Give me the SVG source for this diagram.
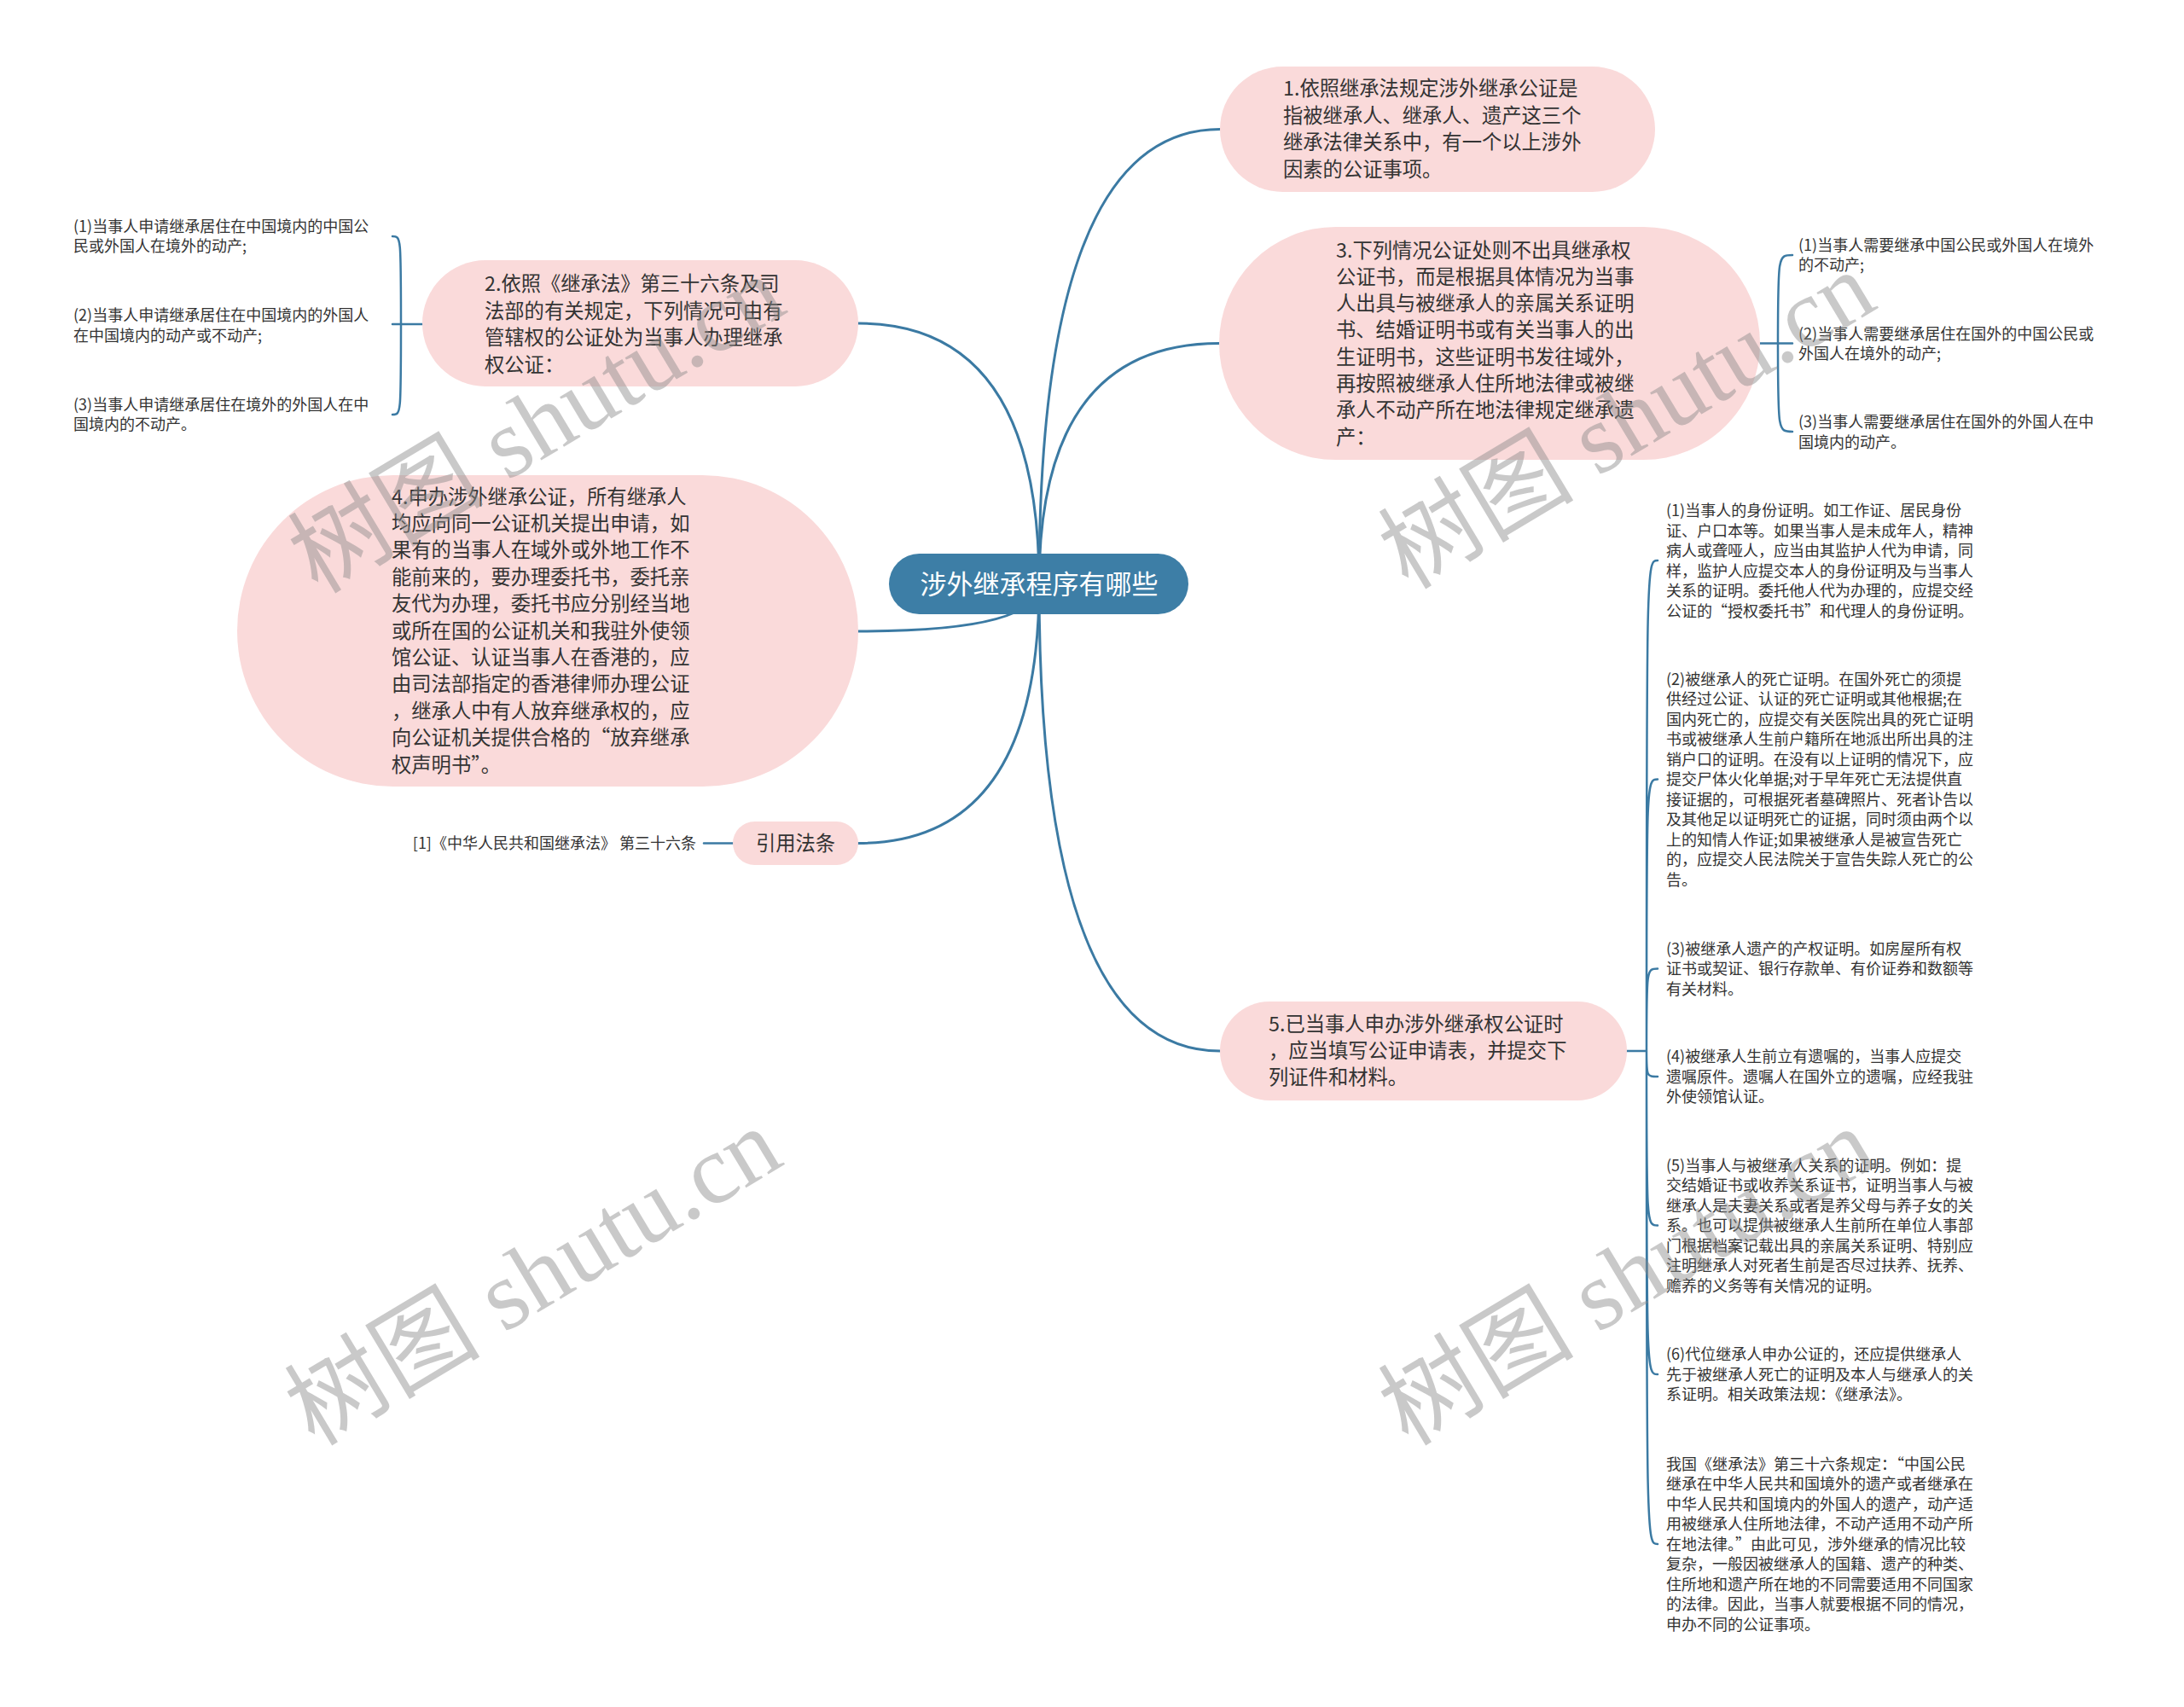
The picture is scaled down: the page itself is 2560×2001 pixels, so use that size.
<svg xmlns="http://www.w3.org/2000/svg" width="2560" height="2001" viewBox="0 0 2560 2001">
<style>
.bub{fill:#fadada;}
.ctr{fill:#3d7ea6;}
.con{fill:none;stroke:#3b7aa3;stroke-width:3;stroke-linecap:round;}
.brc{fill:none;stroke:#3b7aa3;stroke-width:2.5;stroke-linecap:round;}
.t{font-family:"Noto Sans CJK SC","Microsoft YaHei",sans-serif;font-size:23.3px;fill:#333;}
.s{font-family:"Noto Sans CJK SC","Microsoft YaHei",sans-serif;font-size:18px;fill:#333;}
.c{font-family:"Noto Sans CJK SC","Microsoft YaHei",sans-serif;font-size:31px;fill:#fff;}
.wm{font-family:"Liberation Serif","Noto Sans CJK SC",serif;font-size:115px;fill:#8a8a8a;opacity:0.45;}
</style>
<rect width="2560" height="2001" fill="#fff"/>
<g id="connectors">
<path class="con" d="M1218,685 Q1218,151.5 1430,151.5"/>
<path class="con" d="M1218,685 Q1218,402.5 1429,402.5"/>
<path class="con" d="M1218,685 Q1218,1232 1430,1232"/>
<path class="con" d="M1218,685 Q1218,379 1006,379"/>
<path class="con" d="M1218,685 Q1218,740 1006,740"/>
<path class="con" d="M1218,685 Q1218,988.5 1006,988.5"/>
<path class="brc" d="M859,988.5 H825"/>
<path class="brc" d="M2063,402.5 H2084 M2084,402.5 C2084,299 2084,299 2101,299 M2084,402.5 H2101 M2084,402.5 C2084,506 2084,506 2101,506"/>
<path class="brc" d="M495,380 H470 M470,380 C470,277 470,277 460,277 M470,380 H460 M470,380 C470,486 470,486 460,486"/>
<path class="brc" d="M1906,1232 H1930 M1930,1232 C1930,657 1930,657 1943,657 M1930,1232 C1930,913.5 1930,913.5 1943,913.5 M1930,1232 C1930,1135.5 1930,1135.5 1943,1135.5 M1930,1232 C1930,1262 1930,1262 1943,1262 M1930,1232 C1930,1436.5 1930,1436.5 1943,1436.5 M1930,1232 C1930,1611 1930,1611 1943,1611 M1930,1232 C1930,1810 1930,1810 1943,1810"/>
</g>
<g id="center">
<rect class="ctr" x="1042" y="649" width="351" height="71" rx="35.5"/>
<text class="c" x="1218" y="696" text-anchor="middle">涉外继承程序有哪些</text>
</g>
<g id="node1">
<rect class="bub" x="1430" y="78" width="510" height="147" rx="73.5"/>
<text class="t" y="112.3"><tspan x="1504">1.依照继承法规定涉外继承公证是</tspan><tspan x="1504" dy="31.5">指被继承人、继承人、遗产这三个</tspan><tspan x="1504" dy="31.5">继承法律关系中，有一个以上涉外</tspan><tspan x="1504" dy="31.5">因素的公证事项。</tspan></text>
</g>
<g id="node3">
<rect class="bub" x="1429" y="266" width="634" height="273" rx="136.5"/>
<text class="t" y="301.5"><tspan x="1566">3.下列情况公证处则不出具继承权</tspan><tspan x="1566" dy="31.3">公证书，而是根据具体情况为当事</tspan><tspan x="1566" dy="31.3">人出具与被继承人的亲属关系证明</tspan><tspan x="1566" dy="31.3">书、结婚证明书或有关当事人的出</tspan><tspan x="1566" dy="31.3">生证明书，这些证明书发往域外，</tspan><tspan x="1566" dy="31.3">再按照被继承人住所地法律或被继</tspan><tspan x="1566" dy="31.3">承人不动产所在地法律规定继承遗</tspan><tspan x="1566" dy="31.3">产：</tspan></text>
</g>
<g id="node3-1"><text class="s" y="293.5"><tspan x="2108">(1)当事人需要继承中国公民或外国人在境外</tspan><tspan x="2108" dy="23.5">的不动产;</tspan></text></g>
<g id="node3-2"><text class="s" y="397.5"><tspan x="2108">(2)当事人需要继承居住在国外的中国公民或</tspan><tspan x="2108" dy="23.5">外国人在境外的动产;</tspan></text></g>
<g id="node3-3"><text class="s" y="501"><tspan x="2108">(3)当事人需要继承居住在国外的外国人在中</tspan><tspan x="2108" dy="23.5">国境内的动产。</tspan></text></g>
<g id="node2">
<rect class="bub" x="495" y="305" width="511" height="148" rx="74"/>
<text class="t" y="341"><tspan x="568">2.依照《继承法》第三十六条及司</tspan><tspan x="568" dy="31.5">法部的有关规定，下列情况可由有</tspan><tspan x="568" dy="31.5">管辖权的公证处为当事人办理继承</tspan><tspan x="568" dy="31.5">权公证：</tspan></text>
</g>
<g id="node2-1"><text class="s" y="271.5"><tspan x="86">(1)当事人申请继承居住在中国境内的中国公</tspan><tspan x="86" dy="23.5">民或外国人在境外的动产;</tspan></text></g>
<g id="node2-2"><text class="s" y="376"><tspan x="86">(2)当事人申请继承居住在中国境内的外国人</tspan><tspan x="86" dy="23.5">在中国境内的动产或不动产;</tspan></text></g>
<g id="node2-3"><text class="s" y="480.5"><tspan x="86">(3)当事人申请继承居住在境外的外国人在中</tspan><tspan x="86" dy="23.5">国境内的不动产。</tspan></text></g>
<g id="node4">
<rect class="bub" x="278" y="557" width="728" height="365" rx="182.5"/>
<text class="t" y="590.5"><tspan x="459">4.申办涉外继承公证，所有继承人</tspan><tspan x="459" dy="31.4">均应向同一公证机关提出申请，如</tspan><tspan x="459" dy="31.4">果有的当事人在域外或外地工作不</tspan><tspan x="459" dy="31.4">能前来的，要办理委托书，委托亲</tspan><tspan x="459" dy="31.4">友代为办理，委托书应分别经当地</tspan><tspan x="459" dy="31.4">或所在国的公证机关和我驻外使领</tspan><tspan x="459" dy="31.4">馆公证、认证当事人在香港的，应</tspan><tspan x="459" dy="31.4">由司法部指定的香港律师办理公证</tspan><tspan x="459" dy="31.4">，继承人中有人放弃继承权的，应</tspan><tspan x="459" dy="31.4">向公证机关提供合格的“放弃继承</tspan><tspan x="459" dy="31.4">权声明书”。</tspan></text>
</g>
<g id="cite">
<rect class="bub" x="859" y="963" width="147" height="51" rx="25.5"/>
<text class="t" x="932.5" y="996.5" text-anchor="middle">引用法条</text>
</g>
<g id="cite-1"><text class="s" x="816" y="995" text-anchor="end">[1]《中华人民共和国继承法》 第三十六条</text></g>
<g id="node5">
<rect class="bub" x="1430" y="1174" width="477" height="116" rx="58"/>
<text class="t" y="1209"><tspan x="1487">5.已当事人申办涉外继承权公证时</tspan><tspan x="1487" dy="31">，应当填写公证申请表，并提交下</tspan><tspan x="1487" dy="31">列证件和材料。</tspan></text>
</g>
<g id="node5-1"><text class="s" y="605"><tspan x="1953">(1)当事人的身份证明。如工作证、居民身份</tspan><tspan x="1953" dy="23.5">证、户口本等。如果当事人是未成年人，精神</tspan><tspan x="1953" dy="23.5">病人或聋哑人，应当由其监护人代为申请，同</tspan><tspan x="1953" dy="23.5">样，监护人应提交本人的身份证明及与当事人</tspan><tspan x="1953" dy="23.5">关系的证明。委托他人代为办理的，应提交经</tspan><tspan x="1953" dy="23.5">公证的“授权委托书”和代理人的身份证明。</tspan></text></g>
<g id="node5-2"><text class="s" y="802.5"><tspan x="1953">(2)被继承人的死亡证明。在国外死亡的须提</tspan><tspan x="1953" dy="23.5">供经过公证、认证的死亡证明或其他根据;在</tspan><tspan x="1953" dy="23.5">国内死亡的，应提交有关医院出具的死亡证明</tspan><tspan x="1953" dy="23.5">书或被继承人生前户籍所在地派出所出具的注</tspan><tspan x="1953" dy="23.5">销户口的证明。在没有以上证明的情况下，应</tspan><tspan x="1953" dy="23.5">提交尸体火化单据;对于早年死亡无法提供直</tspan><tspan x="1953" dy="23.5">接证据的，可根据死者墓碑照片、死者讣告以</tspan><tspan x="1953" dy="23.5">及其他足以证明死亡的证据，同时须由两个以</tspan><tspan x="1953" dy="23.5">上的知情人作证;如果被继承人是被宣告死亡</tspan><tspan x="1953" dy="23.5">的，应提交人民法院关于宣告失踪人死亡的公</tspan><tspan x="1953" dy="23.5">告。</tspan></text></g>
<g id="node5-3"><text class="s" y="1118.5"><tspan x="1953">(3)被继承人遗产的产权证明。如房屋所有权</tspan><tspan x="1953" dy="23.5">证书或契证、银行存款单、有价证券和数额等</tspan><tspan x="1953" dy="23.5">有关材料。</tspan></text></g>
<g id="node5-4"><text class="s" y="1245"><tspan x="1953">(4)被继承人生前立有遗嘱的，当事人应提交</tspan><tspan x="1953" dy="23.5">遗嘱原件。遗嘱人在国外立的遗嘱，应经我驻</tspan><tspan x="1953" dy="23.5">外使领馆认证。</tspan></text></g>
<g id="node5-5"><text class="s" y="1372.5"><tspan x="1953">(5)当事人与被继承人关系的证明。例如：提</tspan><tspan x="1953" dy="23.5">交结婚证书或收养关系证书，证明当事人与被</tspan><tspan x="1953" dy="23.5">继承人是夫妻关系或者是养父母与养子女的关</tspan><tspan x="1953" dy="23.5">系。也可以提供被继承人生前所在单位人事部</tspan><tspan x="1953" dy="23.5">门根据档案记载出具的亲属关系证明、特别应</tspan><tspan x="1953" dy="23.5">注明继承人对死者生前是否尽过扶养、抚养、</tspan><tspan x="1953" dy="23.5">赡养的义务等有关情况的证明。</tspan></text></g>
<g id="node5-6"><text class="s" y="1594"><tspan x="1953">(6)代位继承人申办公证的，还应提供继承人</tspan><tspan x="1953" dy="23.5">先于被继承人死亡的证明及本人与继承人的关</tspan><tspan x="1953" dy="23.5">系证明。相关政策法规：《继承法》。</tspan></text></g>
<g id="node5-7"><text class="s" y="1722.5"><tspan x="1953">我国《继承法》第三十六条规定：“中国公民</tspan><tspan x="1953" dy="23.5">继承在中华人民共和国境外的遗产或者继承在</tspan><tspan x="1953" dy="23.5">中华人民共和国境内的外国人的遗产，动产适</tspan><tspan x="1953" dy="23.5">用被继承人住所地法律，不动产适用不动产所</tspan><tspan x="1953" dy="23.5">在地法律。”由此可见，涉外继承的情况比较</tspan><tspan x="1953" dy="23.5">复杂，一般因被继承人的国籍、遗产的种类、</tspan><tspan x="1953" dy="23.5">住所地和遗产所在地的不同需要适用不同国家</tspan><tspan x="1953" dy="23.5">的法律。因此，当事人就要根据不同的情况，</tspan><tspan x="1953" dy="23.5">申办不同的公证事项。</tspan></text></g>
<g id="watermarks">
<text class="wm" x="649" y="531" text-anchor="middle" transform="rotate(-31 649 531)">树图 shutu.cn</text>
<text class="wm" x="1927" y="526" text-anchor="middle" transform="rotate(-31 1927 526)">树图 shutu.cn</text>
<text class="wm" x="645" y="1530" text-anchor="middle" transform="rotate(-31 645 1530)">树图 shutu.cn</text>
<text class="wm" x="1927" y="1530" text-anchor="middle" transform="rotate(-31 1927 1530)">树图 shutu.cn</text>
</g>
</svg>
